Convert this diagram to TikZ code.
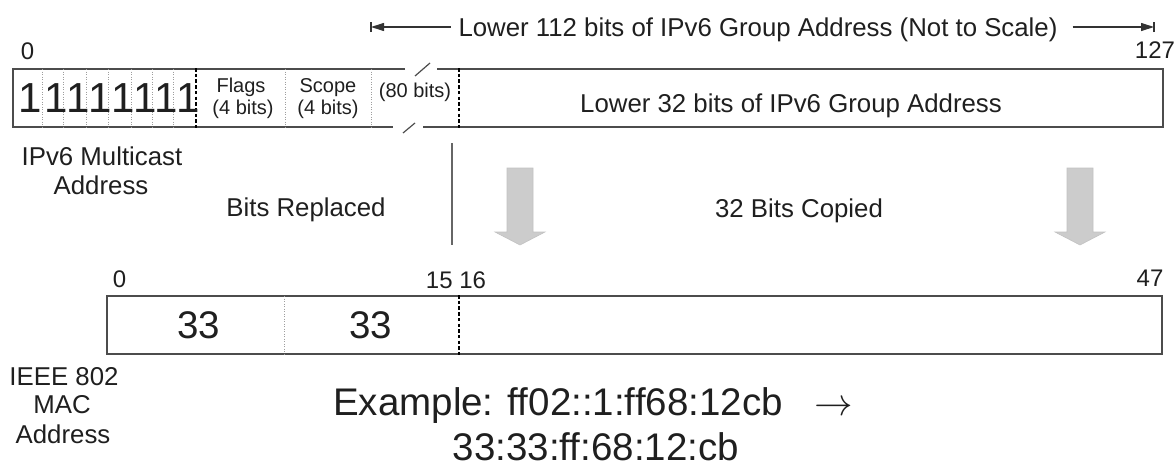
\RequirePackage{fix-cm}
\documentclass[tikz,border=0pt]{standalone}
\usepackage{fontspec}
\setmainfont{Liberation Sans}
\usetikzlibrary{arrows.meta}
\newcommand\fLbl{\fontsize{25.8pt}{30pt}\selectfont}
\newcommand\fSmall{\fontsize{20pt}{22pt}\selectfont}
\newcommand\fNum{\fontsize{24pt}{28pt}\selectfont}
\newcommand\fOnes{\fontsize{42pt}{46pt}\selectfont}
\newcommand\fBig{\fontsize{38.5pt}{44pt}\selectfont}
\tikzset{
  ln/.style={draw=black!70, line width=1.2pt},
  thindiv/.style={draw=black!38, line width=0.9pt, dash pattern=on 1.2pt off 1.3pt},
  thickdiv/.style={draw=black, line width=1.7pt, dash pattern=on 3.5pt off 2.2pt},
  bigarrow/.style={fill=black!20, draw=black!24, line width=0.6pt},
  txt/.style={inner sep=0pt, anchor=base, text=black!88},
  dimln/.style={draw=black!80, line width=1.1pt},
}
\begin{document}
\begin{tikzpicture}[x=1pt,y=-1pt]
\useasboundingbox (0,0) rectangle (1175,466);
% ---------- top dimension label ----------
\node[txt,font=\fLbl] (top) at (758,36.3) {Lower 112 bits of IPv6 Group Address (Not to Scale)};
\coordinate (dimL) at (371,27);
\coordinate (dimR) at (1154,27);
\draw[dimln,{Triangle[length=13pt,width=8pt]}-,shorten >=7pt] (dimL) -- (dimL -| top.west);
\draw[dimln,-{Triangle[length=13pt,width=8pt]},shorten <=15pt] (dimR -| top.east) -- (dimR);
\draw[dimln] ([yshift=-5pt]dimL) -- ([yshift=5pt]dimL);
\draw[dimln] ([yshift=-5pt]dimR) -- ([yshift=5pt]dimR);
% ---------- top bit numbers ----------
\node[txt,font=\fNum] (n0) at (27.5,59.5) {0};
\node[txt,font=\fNum] (n127) at (1155,58.5) {127};
% ---------- IPv6 address box ----------
\draw[ln] (405,69) -- (13,69) -- (13,127) -- (393,127);
\draw[ln] (437,69) -- (1163,69) -- (1163,127) -- (423,127);
\draw[ln] (415,76) -- (430,63);
\draw[ln] (403,133) -- (415,123);
\foreach \x in {42,63,86,108,131,152,173,285,371}
  \draw[thindiv] (\x,69) -- (\x,127);
\draw[thickdiv] (196,68) -- (196,128);
\draw[thickdiv] (459,68) -- (459,128);
\foreach \x [count=\i] in {30,56.5,78,100,123,145,166.5,188}
  \node[txt,font=\fOnes] (one\i) at (\x,112) {1};
\node[txt,font=\fSmall] (flags) at (241,92) {Flags};
\node[txt,font=\fSmall] (flagsb) at (243,114) {(4 bits)};
\node[txt,font=\fSmall] (scope) at (328,92) {Scope};
\node[txt,font=\fSmall] (scopeb) at (328,114) {(4 bits)};
\node[txt,font=\fSmall] (mid) at (415,97) {(80 bits)};
\node[txt,font=\fLbl] (low32) at (791,112) {Lower 32 bits of IPv6 Group Address};
% ---------- middle labels ----------
\node[txt,font=\fLbl] (mc1) at (102,165) {IPv6 Multicast};
\node[txt,font=\fLbl] (mc2) at (101,194) {Address};
\node[txt,font=\fLbl] (repl) at (306,216) {Bits Replaced};
\node[txt,font=\fLbl] (copied) at (799,217) {32 Bits Copied};
\draw[draw=black!60, line width=1.2pt] (452,143) -- (452,245);
\draw[bigarrow, shift={(520,0)}] (-13,168) -- (13,168) -- (13,232) -- (25,232) -- (0,245) -- (-25,232) -- (-13,232) -- cycle;
\draw[bigarrow, shift={(1080,0)}] (-13,168) -- (13,168) -- (13,232) -- (25,232) -- (0,245) -- (-25,232) -- (-13,232) -- cycle;
% ---------- MAC numbers ----------
\node[txt,font=\fNum] (m0) at (119.5,287) {0};
\node[txt,font=\fNum] (m15) at (456,288) {15 16};
\node[txt,font=\fNum] (m47) at (1150,286) {47};
% ---------- MAC box ----------
\draw[ln] (107,296) rectangle (1162,354);
\draw[thindiv] (284,296) -- (284,354);
\draw[thickdiv] (459,295) -- (459,355);
\node[txt,font=\fBig] (b33a) at (199,338) {33};
\node[txt,font=\fBig] (b33b) at (371,338) {33};
% ---------- bottom labels ----------
\node[txt,font=\fLbl] (ie1) at (64,385) {IEEE 802};
\node[txt,font=\fLbl] (ie2) at (62,413) {MAC};
\node[txt,font=\fLbl] (ie3) at (63,443) {Address};
\node[txt,font=\fBig,anchor=base west] (ex1) at (333,415) {Example: ff02::1:ff68:12cb\hspace{32pt}$\rightarrow$};
\node[txt,font=\fBig] (ex2) at (596,460) {33:33:ff:68:12:cb};
\end{tikzpicture}
\end{document}
